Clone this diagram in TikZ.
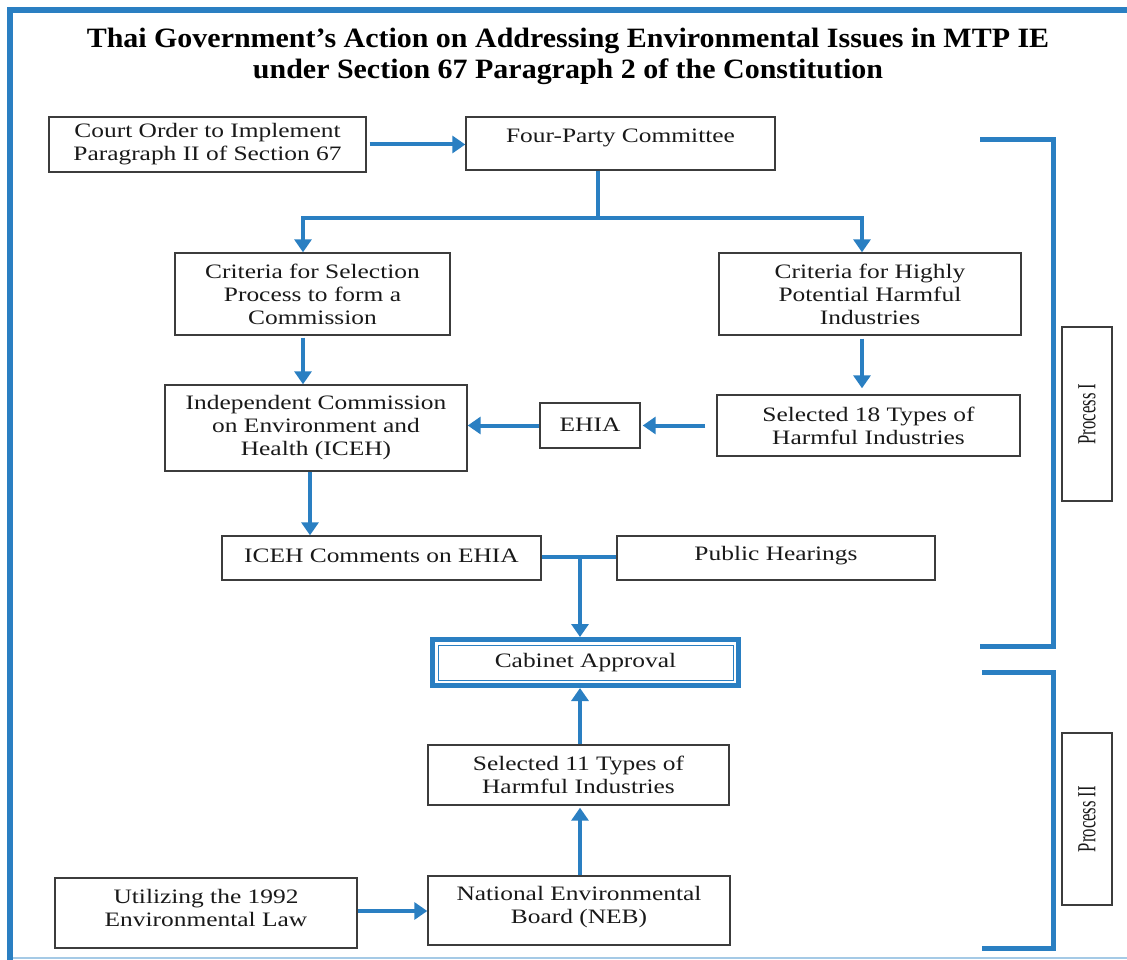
\documentclass[tikz,border=0pt]{standalone}
\usepackage{fontspec}
\setmainfont{Liberation Serif}
\newfontfamily\bodyfont{Liberation Serif}[FakeStretch=1.24]
\newfontfamily\titlefont{Liberation Serif}[FakeStretch=1.07]
\newfontfamily\procfont{Liberation Serif}[FakeStretch=0.64]
\usetikzlibrary{arrows.meta,calc}
\definecolor{fblue}{RGB}{42,127,194}
\definecolor{fgray}{RGB}{60,60,60}
\definecolor{ftext}{RGB}{25,25,25}
\definecolor{lblue}{RGB}{165,202,230}
\begin{document}
\begin{tikzpicture}[x=1pt,y=-1pt,
 box/.style={draw=fgray, line width=1.4pt, rectangle, inner sep=0pt, align=center,
   font=\bodyfont\fontsize{20.5}{23}\selectfont, text=ftext},
 arr/.style={draw=fblue, line width=4pt, -{Triangle[width=17pt,length=13pt]}},
 conn/.style={draw=fblue, line width=4pt},
 brk/.style={draw=fblue, line width=5pt},
 procbox/.style={draw=fgray, line width=1.2pt, inner sep=0pt, rotate=90,
   font=\procfont\fontsize{26}{28}\selectfont, text=ftext}]
\useasboundingbox (0,0) rectangle (1127,960);
% frame
\fill[fblue] (7,7) rectangle (1127,13);
\fill[fblue] (7,7) rectangle (13,960);
\draw[lblue, line width=1.5pt] (13,958) -- (1127,958);
% title
\node[font=\titlefont\bfseries\fontsize{28}{31}\selectfont, align=center, text=black] (title) at (568,56.5)
 {Thai Government’s Action on Addressing Environmental Issues in MTP IE\\
  under Section 67 Paragraph 2 of the Constitution};
% boxes
\node[box, minimum width=317pt, minimum height=55pt] (court) at (207.5,144.5)
 {Court Order to Implement\\ Paragraph II of Section 67};
\node[box, minimum width=309pt, minimum height=53pt] (four) at (620.5,143.5)
 {\raisebox{6pt}[\height][\depth]{Four-Party Committee}};
\node[box, minimum width=275pt, minimum height=82pt] (critsel) at (312.5,294)
 {Criteria for Selection\\ Process to form a\\ Commission};
\node[box, minimum width=302pt, minimum height=82pt] (crithi) at (870,294)
 {Criteria for Highly\\ Potential Harmful\\ Industries};
\node[box, minimum width=302pt, minimum height=86pt] (iceh) at (316,428)
 {Independent Commission\\ on Environment and\\ Health (ICEH)};
\node[box, minimum width=100pt, minimum height=45pt] (ehia) at (590,425.5)
 {\raisebox{1pt}[\height][\depth]{EHIA}};
\node[box, minimum width=303pt, minimum height=61pt] (sel18) at (868.5,425.5)
 {Selected 18 Types of\\ Harmful Industries};
\node[box, minimum width=319pt, minimum height=44pt] (comm) at (381.5,558)
 {\raisebox{2pt}[\height][\depth]{ICEH Comments on EHIA}};
\node[box, minimum width=318pt, minimum height=44pt] (pub) at (776,558)
 {\raisebox{2pt}[\height][\depth]{Public Hearings}};
\node[box, draw=fblue, line width=5pt, minimum width=306pt, minimum height=46pt] (cab) at (585.5,662.5)
 {Cabinet Approval};
\draw[fblue, line width=1pt] ($(cab.north west)+(8,8)$) rectangle ($(cab.south east)+(-8,-8)$);
\node[box, minimum width=301pt, minimum height=60pt] (sel11) at (578.5,775)
 {Selected 11 Types of\\ Harmful Industries};
\node[box, minimum width=302pt, minimum height=69pt] (neb) at (579,910.5)
 {\raisebox{3pt}[\height][\depth]{\begin{tabular}{@{}c@{}}National Environmental\\ Board (NEB)\end{tabular}}};
\node[box, minimum width=302pt, minimum height=70pt] (util) at (206,913)
 {\raisebox{3pt}[\height][\depth]{\begin{tabular}{@{}c@{}}Utilizing the 1992\\ Environmental Law\end{tabular}}};
\node[procbox, minimum width=174pt, minimum height=50pt] (p1) at (1087,414) {Process I};
\node[procbox, minimum width=172pt, minimum height=50pt] (p2) at (1087,819) {Process II};
% connectors
\draw[arr, shorten <=3pt] (court.east) -- (court.east -| four.west);
\coordinate (fs) at (598,218);
\coordinate (hl) at (303,218);
\coordinate (hr) at (862,218);
\draw[conn] (fs |- four.south) -- (fs);
\draw[conn] ([xshift=-2pt]hl) -- ([xshift=2pt]hr);
\draw[arr] (hl) -- (hl |- critsel.north);
\draw[arr] (hr) -- (hr |- crithi.north);
\draw[arr, shorten <=2pt] (hl |- critsel.south) -- (hl |- iceh.north);
\draw[arr, shorten <=3pt, shorten >=6pt] (hr |- crithi.south) -- (hr |- sel18.north);
\draw[arr, shorten <=11pt, shorten >=2pt] (sel18.west |- ehia.east) -- (ehia.east);
\draw[arr] (ehia.west) -- (ehia.west -| iceh.east);
\coordinate (ic) at (310,0);
\draw[arr] (ic |- iceh.south) -- (ic |- comm.north);
\coordinate (j) at (580,557);
\draw[conn] (comm.east |- j) -- (pub.west |- j);
\draw[arr] (j) -- (j |- cab.north);
\draw[arr] (j |- sel11.north) -- (j |- cab.south);
\draw[arr, shorten >=2pt] (j |- neb.north) -- (j |- sel11.south);
\draw[arr] (util.east |- 0,911) -- (neb.west |- 0,911);
% brackets
\draw[brk] (980,140) -- (1053,140) -- (1053,646) -- (980,646);
\draw[brk] (982,672) -- (1053,672) -- (1053,948) -- (982,948);
\end{tikzpicture}
\end{document}
